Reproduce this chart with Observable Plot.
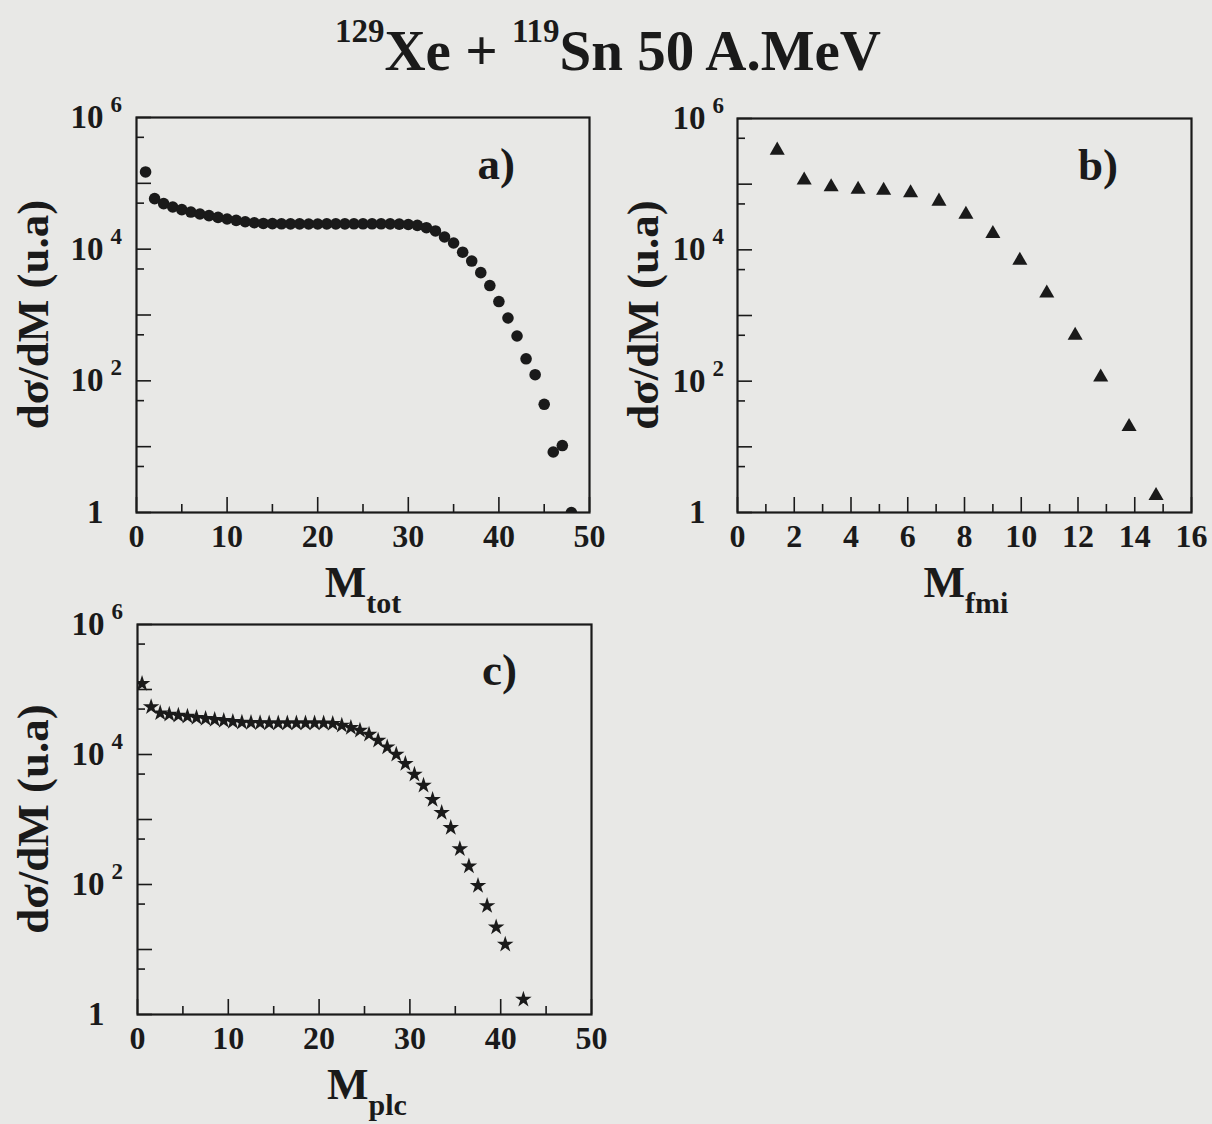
<!DOCTYPE html>
<html><head><meta charset="utf-8">
<script src="https://cdn.jsdelivr.net/npm/d3@7"></script>
<script src="https://cdn.jsdelivr.net/npm/@observablehq/plot@0.6"></script>
<style>
html,body{margin:0;padding:0;background:#e8e8e6;}
#fig{position:relative;width:1212px;height:1124px;overflow:hidden;background:#e8e8e6;}
#fig svg{position:absolute;left:0;top:0;overflow:visible;}
</style></head>
<body><div id="fig"></div>
<script>
// ---------- data ----------
// a) total multiplicity
const mTot = [1,2,3,4,5,6,7,8,9,10,11,12,13,14,15,16,17,18,19,20,21,22,23,24,25,26,27,28,29,30,31,32,33,34,35,36,37,38,39,40,41,42,43,44,45,46,47,48];
const dsdmTot = [1.49e5,5.85e4,4.91e4,4.37e4,3.98e4,3.66e4,3.42e4,3.23e4,3.04e4,2.87e4,2.74e4,2.61e4,2.52e4,
  2.46e4,2.44e4,2.43e4,2.42e4,2.42e4,2.41e4,2.41e4,2.42e4,2.42e4,2.42e4,2.43e4,2.43e4,2.43e4,2.43e4,2.42e4,2.40e4,
  2.37e4,2.30e4,2.12e4,1.89e4,1.53e4,1.24e4,9.0e3,6.6e3,4.4e3,2.8e3,1.6e3,900,480,216,124,44,8.3,10.4,1.0];
// b) IMF multiplicity (positions as read on the axis)
const mFmi = [1.4,2.35,3.3,4.25,5.15,6.1,7.1,8.05,9.0,9.95,10.9,11.9,12.8,13.8,14.75];
const dsdmFmi = [3.28e5,1.15e5,9.06e4,8.34e4,8.05e4,7.34e4,5.48e4,3.47e4,1.76e4,6.9e3,2.19e3,496,115,20.3,1.8];
// c) light charged particle multiplicity (bin centre = M + 0.5)
const mPlc = [0,1,2,3,4,5,6,7,8,9,10,11,12,13,14,15,16,17,18,19,20,21,22,23,24,25,26,27,28,29,30,31,32,33,34,35,36,37,38,39,40,42];
const dsdmPlc = [1.23e5,5.4e4,4.34e4,4.14e4,3.99e4,3.85e4,3.67e4,3.55e4,3.43e4,3.31e4,3.19e4,3.12e4,3.08e4,
  3.05e4,3.04e4,3.04e4,3.04e4,3.04e4,3.04e4,3.04e4,3.03e4,2.97e4,2.80e4,2.58e4,2.35e4,2.04e4,1.65e4,1.30e4,1.00e4,
  7.2e3,4.94e3,3.35e3,2.02e3,1.27e3,748,352,191,96,47,22,12,1.7];
// axis ticks
const yMajor = [1,10,100,1e3,1e4,1e5,1e6];
const yLabeled = [1,100,1e4,1e6];
const yMinor = [5,50,500,5e3,5e4,5e5];
const x50Major = [0,10,20,30,40,50], x50Minor = [5,15,25,35,45];
const x16Major = [0,2,4,6,8,10,12,14,16], x16Minor = [1,3,5,7,9,11,13,15];

const INK = "#1a1a1a";
const FONT = "'Liberation Serif','Times New Roman',serif";
const ns = "http://www.w3.org/2000/svg";
const fig = document.getElementById("fig");
const W = 1212, H = 1124;

function yFmt(d){ if (!yLabeled.includes(d)) return ""; return d === 1 ? "1" : "10^" + Math.round(Math.log10(d)); }

function panel(o) {
  const rows = o.xs.map((x, i) => ({x, y: o.ys[i]}));
  const svg = Plot.plot({
    width: W, height: H,
    marginLeft: o.fl, marginRight: W - o.fr, marginTop: o.ft, marginBottom: H - o.fb,
    style: {background: "transparent", fontFamily: FONT, fontWeight: "bold", color: INK, overflow: "visible"},
    x: {domain: o.xDomain, label: null},
    y: {type: "log", domain: [1, 1e6], label: null},
    marks: [
      Plot.axisX({ticks: o.xMajor, tickSize: -15, tickPadding: 27, fontSize: 32, strokeWidth: 1.6, label: null}),
      Plot.axisX({ticks: o.xMinor, tickSize: -8, tickFormat: () => "", strokeWidth: 1.6, label: null}),
      Plot.axisY({ticks: yMajor, tickSize: -15, tickPadding: 15 + (o.fl - o.yLabelRight), fontSize: 33, strokeWidth: 1.6, tickFormat: yFmt, label: null}),
      Plot.axisY({ticks: yMinor, tickSize: -8, tickFormat: () => "", strokeWidth: 1.6, label: null}),
      Plot.dot(rows, {x: d => d.x + (o.xOffset || 0), y: "y", symbol: o.symbol, r: o.r, fill: INK, stroke: "none", clip: true}),
      Plot.frame({stroke: INK, strokeWidth: 2.2})
    ]
  });
  // superscript exponents on y tick labels
  svg.querySelectorAll('g[aria-label="y-axis tick label"] text').forEach(t => {
    const s = t.textContent;
    if (!s.includes("^")) return;
    const [b, e] = s.split("^");
    t.textContent = b;
    const c = t.cloneNode(false);
    c.setAttribute("text-anchor", "start");
    const ts = document.createElementNS(ns, "tspan");
    ts.setAttribute("dx", 7); ts.setAttribute("dy", -16); ts.setAttribute("font-size", 23);
    ts.textContent = e;
    c.appendChild(ts);
    t.parentNode.appendChild(c);
  });
  const s = d3.select(svg);
  // y axis title
  s.append("text").attr("transform", `translate(${o.ylx},${(o.ft + o.fb) / 2}) rotate(-90)`)
    .attr("text-anchor", "middle").attr("dy", "0.35em")
    .attr("font-family", FONT).attr("font-weight", "bold").attr("font-size", 45).attr("fill", INK)
    .text("dσ/dM (u.a)");
  // x axis title with subscript
  const xt = s.append("text").attr("x", o.xlx).attr("y", o.fb + 85).attr("text-anchor", "middle")
    .attr("font-family", FONT).attr("font-weight", "bold").attr("font-size", 44).attr("fill", INK);
  xt.append("tspan").text("M");
  xt.append("tspan").attr("dy", 16).attr("font-size", 30).text(o.sub);
  // panel letter
  s.append("text").attr("x", o.lx).attr("y", o.ly).attr("text-anchor", "end")
    .attr("font-family", FONT).attr("font-weight", "bold").attr("font-size", 45).attr("fill", INK)
    .text(o.letter);
  fig.appendChild(svg);
}

panel({xs: mTot, ys: dsdmTot, xDomain: [0, 50], xMajor: x50Major, xMinor: x50Minor, symbol: "circle", r: 5.8,
  fl: 136, fr: 589, ft: 117, fb: 512, yLabelRight: 103, ylx: 32, xlx: 363, sub: "tot", lx: 515, ly: 179, letter: "a)"});
panel({xs: mFmi, ys: dsdmFmi, xDomain: [0, 16], xMajor: x16Major, xMinor: x16Minor, symbol: "triangle", r: 5.6,
  fl: 737, fr: 1191, ft: 118, fb: 512, yLabelRight: 705, ylx: 642, xlx: 966, sub: "fmi", lx: 1118, ly: 180, letter: "b)"});
panel({xs: mPlc, ys: dsdmPlc, xOffset: 0.5, xDomain: [0, 50], xMajor: x50Major, xMinor: x50Minor, symbol: "star", r: 5.2,
  fl: 137, fr: 591, ft: 624, fb: 1014, yLabelRight: 104, ylx: 32, xlx: 367, sub: "plc", lx: 517, ly: 685, letter: "c)"});

// title
const tsvg = d3.create("svg").attr("width", W).attr("height", 110);
const tt = tsvg.append("text").attr("x", 608).attr("y", 70).attr("text-anchor", "middle")
  .attr("font-family", FONT).attr("font-weight", "bold").attr("font-size", 57).attr("fill", INK);
tt.append("tspan").attr("font-size", 33).attr("dy", -28).text("129");
tt.append("tspan").attr("dy", 28).text("Xe + ");
tt.append("tspan").attr("font-size", 33).attr("dy", -28).text("119");
tt.append("tspan").attr("dy", 28).text("Sn 50 A.MeV");
fig.appendChild(tsvg.node());
</script>
</body></html>
